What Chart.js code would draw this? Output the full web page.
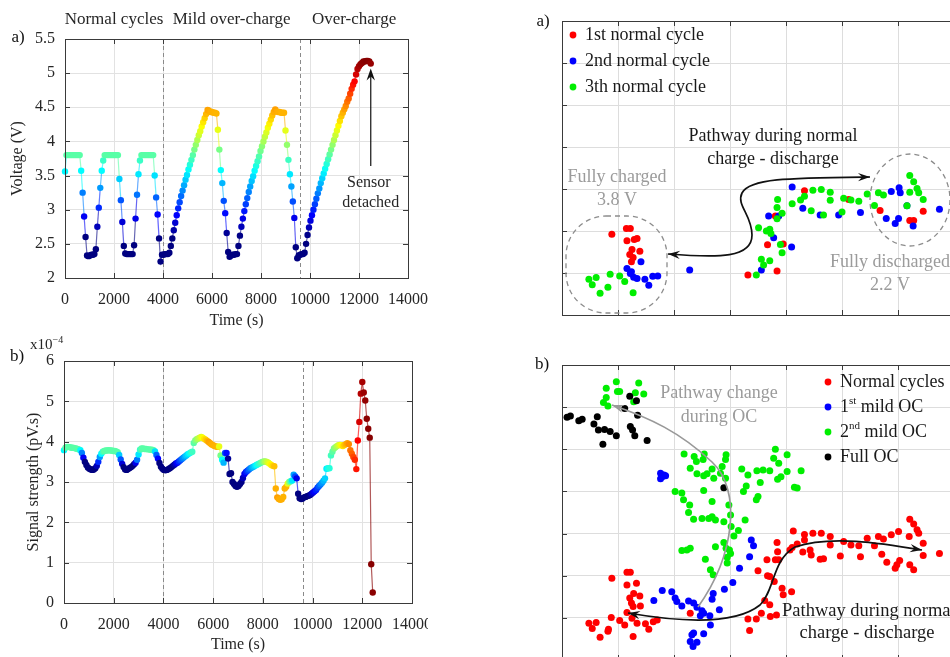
<!DOCTYPE html>
<html>
<head>
<meta charset="utf-8">
<title>Voltage and signal strength</title>
<script src="https://cdn.jsdelivr.net/npm/chart.js@4.4.1/dist/chart.umd.min.js"></script>
<style>
  html, body { margin: 0; padding: 0; background: #fff; width: 950px; height: 657px; overflow: hidden; }
  body { position: relative; }
  canvas { position: absolute; left: 0; top: 0; }
  .pane { position: absolute; overflow: hidden; }
</style>
</head>
<body>
<div class="pane" style="left:0;top:0;width:440px;height:330px"><canvas id="voltChart" width="440" height="330"></canvas></div>
<div class="pane" style="left:0;top:330px;width:428px;height:327px"><canvas id="signalChart" width="446" height="327"></canvas></div>
<div class="pane" style="left:530px;top:0;width:420px;height:320px"><canvas id="normalChart" width="490" height="320"></canvas></div>
<div class="pane" style="left:530px;top:330px;width:420px;height:327px"><canvas id="ocChart" width="490" height="335"></canvas></div>
<script>
// ---- left panels: time series (shared time base) ----
var timeS = [
  0,60,120,180,240,300,360,420,480,540,
  600,660,720,780,840,900,960,1020,1080,1140,
  1200,1260,1320,1380,1440,1500,1560,1620,1680,1740,
  1800,1860,1920,1980,2040,2100,2160,2220,2280,2340,
  2400,2460,2520,2580,2640,2700,2760,2820,2880,2940,
  3000,3060,3120,3180,3240,3300,3360,3420,3480,3540,
  3600,3660,3720,3780,3840,3900,3960,4020,4080,4140,
  4200,4260,4320,4380,4440,4500,4560,4620,4680,4740,
  4800,4860,4920,4980,5040,5100,5160,5220,5280,5340,
  5400,5460,5520,5580,5640,5700,5760,5820,5880,5940,
  6000,6060,6120,6180,6240,6300,6360,6420,6480,6540,
  6600,6660,6720,6780,6840,6900,6960,7020,7080,7140,
  7200,7260,7320,7380,7440,7500,7560,7620,7680,7740,
  7800,7860,7920,7980,8040,8100,8160,8220,8280,8340,
  8400,8460,8520,8580,8640,8700,8760,8820,8880,8940,
  9000,9060,9120,9180,9240,9300,9360,9420,9480,9540,
  9600,9660,9720,9780,9840,9900,9960,10020,10080,10140,
  10200,10260,10320,10380,10440,10500,10560,10620,10680,10740,
  10800,10860,10920,10980,11040,11100,11160,11220,11280,11340,
  11400,11460,11520,11580,11640,11700,11760,11820,11880,11940,
  12000,12060,12120,12180,12240,12300,12360,12420,12480
];
var voltage = [
  3.56,3.80,3.80,3.80,3.80,3.80,3.80,3.80,3.80,3.80,
  3.80,3.57,3.25,2.90,2.60,2.33,2.32,2.33,2.34,2.34,
  2.35,2.42,2.75,3.03,3.32,3.57,3.72,3.80,3.80,3.80,
  3.80,3.80,3.80,3.80,3.80,3.80,3.80,3.45,3.14,2.82,
  2.47,2.36,2.35,2.35,2.35,2.35,2.35,2.48,2.87,3.22,
  3.52,3.72,3.80,3.80,3.80,3.80,3.80,3.80,3.80,3.80,
  3.80,3.50,3.18,2.93,2.58,2.24,2.34,2.34,2.35,2.35,
  2.35,2.37,2.47,2.58,2.70,2.81,2.92,3.02,3.11,3.20,
  3.28,3.36,3.44,3.51,3.59,3.66,3.73,3.80,3.88,3.95,
  4.02,4.09,4.15,4.22,4.28,4.34,4.40,4.46,4.45,4.43,
  4.43,4.42,4.42,4.41,4.17,3.88,3.58,3.39,3.13,2.95,
  2.66,2.38,2.31,2.33,2.34,2.34,2.35,2.35,2.47,2.62,
  2.75,2.87,2.98,3.08,3.17,3.26,3.34,3.42,3.49,3.57,
  3.64,3.71,3.78,3.86,3.93,4.00,4.07,4.13,4.20,4.26,
  4.32,4.38,4.43,4.47,4.44,4.43,4.43,4.42,4.42,4.42,
  4.16,3.95,3.73,3.52,3.34,3.12,2.88,2.45,2.29,2.33,
  2.34,2.35,2.35,2.37,2.50,2.63,2.74,2.84,2.92,3.00,
  3.08,3.16,3.24,3.31,3.39,3.46,3.53,3.60,3.67,3.74,
  3.81,3.88,3.95,4.02,4.09,4.16,4.23,4.30,4.37,4.42,
  4.47,4.52,4.58,4.63,4.70,4.77,4.83,4.88,4.98,5.06,
  5.10,5.13,5.15,5.17,5.17,5.18,5.18,5.17,5.14
];
// signal strength in units of 1e-4 pV.s
var signal = [
  3.79,3.85,3.87,3.87,3.86,3.85,3.85,3.84,3.83,3.82,
  3.81,3.79,3.72,3.60,3.50,3.42,3.36,3.33,3.31,3.30,
  3.31,3.34,3.40,3.50,3.62,3.70,3.75,3.77,3.78,3.78,
  3.79,3.78,3.78,3.77,3.77,3.76,3.74,3.67,3.56,3.45,
  3.37,3.31,3.30,3.32,3.35,3.37,3.40,3.44,3.48,3.55,
  3.68,3.80,3.83,3.83,3.82,3.82,3.81,3.81,3.80,3.80,
  3.79,3.76,3.67,3.58,3.47,3.38,3.33,3.30,3.29,3.30,
  3.32,3.34,3.37,3.40,3.43,3.46,3.48,3.51,3.54,3.57,
  3.60,3.63,3.66,3.69,3.71,3.73,3.75,3.97,4.03,4.06,
  4.08,4.10,4.12,4.10,4.07,4.05,4.02,3.99,3.96,3.93,
  3.91,3.89,3.88,3.87,3.88,3.66,3.55,3.48,3.72,3.72,
  3.58,3.20,3.22,3.00,2.95,2.90,2.88,2.90,2.95,3.00,
  3.10,3.20,3.25,3.28,3.31,3.34,3.36,3.38,3.40,3.42,
  3.44,3.46,3.48,3.50,3.51,3.51,3.50,3.48,3.45,3.42,
  3.40,3.39,2.84,2.62,2.58,2.56,2.57,2.63,2.84,2.88,
  2.96,3.00,3.02,3.04,3.18,3.14,3.09,2.71,2.60,2.58,
  2.59,2.62,2.63,2.65,2.66,2.68,2.71,2.74,2.77,2.80,
  2.86,2.90,2.94,2.98,3.03,3.09,3.33,3.34,3.34,3.66,
  3.75,3.83,3.86,3.89,3.91,3.92,3.91,3.89,3.92,3.94,
  3.96,3.94,3.79,3.70,3.62,3.55,3.32,4.03,4.49,5.19,
  5.48,5.22,5.02,4.57,4.32,4.10,0.96,0.26,null
];
var phaseBounds = [ 4000, 9600 ];
var phaseNames = [ "Normal cycles", "Mild over-charge", "Over-charge" ];
var timeTicks = [ 0, 2000, 4000, 6000, 8000, 10000, 12000, 14000 ];
var voltTicks = [ 2, 2.5, 3, 3.5, 4, 4.5, 5, 5.5 ];
var signalTicks = [ 0, 1, 2, 3, 4, 5, 6 ];

// ---- right panels: scatter maps (grid units) ----
var normalNames = [ "1st normal cycle", "2nd normal cycle", "3th normal cycle" ];
var cycle1 = [[0.89,1.92],[1.15,2.06],[1.22,2.06],[1.16,1.77],[1.29,1.80],[1.34,1.82],[1.25,1.56],[1.39,1.52],[1.21,1.44],[1.27,1.37],[1.24,1.27],
  [4.33,2.96],[3.81,2.36],[3.95,1.69],[3.67,1.67],[3.32,0.95],[3.84,1.05],[5.12,2.75],[5.68,2.49],[6.45,2.47],[6.21,2.25],[6.28,2.25]];
var cycle2 = [[4.11,3.05],[6.74,2.52],[6.02,3.03],[6.04,2.91],[5.88,2.94],[5.79,2.30],[5.95,2.18],[6.01,2.30],[6.27,2.12],[6.16,2.60],[5.33,2.44],
  [4.94,2.38],[4.61,2.38],[4.30,2.54],[3.69,2.36],[3.87,2.36],[3.78,1.84],[4.10,1.62],[3.56,1.07],[2.28,1.07],[1.16,1.11],[1.22,0.99],
  [1.28,0.90],[1.34,0.87],[1.48,0.85],[1.55,0.71],[1.62,0.92],[1.71,0.93],[1.41,1.27],[1.24,1.03]];
var cycle3 = [[3.85,2.75],[4.11,2.65],[4.26,2.74],[4.33,2.83],[4.48,2.97],[4.63,2.99],[4.79,2.92],[4.79,2.73],[5.03,2.78],[5.16,2.74],[5.30,2.71],
  [5.45,2.88],[5.65,2.91],[5.74,2.86],[5.58,2.61],[6.21,3.32],[6.28,3.17],[6.34,3.01],[6.37,2.91],[6.21,2.92],[6.45,2.75],[6.16,2.60],
  [4.45,2.48],[4.67,2.38],[5.00,2.45],[3.84,2.56],[3.93,2.42],[3.84,2.29],[3.51,2.08],[3.65,2.00],[3.71,2.04],[3.73,1.94],[3.90,1.68],
  [3.93,1.48],[3.56,1.33],[3.71,1.29],[3.60,1.19],[3.47,0.95],[0.86,0.97],[1.03,0.93],[1.12,0.80],[0.48,0.85],[0.54,0.72],[0.61,0.89],
  [0.68,0.52],[0.82,0.66],[1.27,0.53]];

var ocNames = [ "Normal cycles", "1st mild OC", "2nd mild OC", "Full OC" ];
var ocNormal = [[0.89,1.94],[1.16,2.08],[1.22,2.08],[1.16,1.78],[1.33,1.82],[1.28,1.58],[1.21,1.47],[1.39,1.52],[1.24,1.35],[1.27,1.27],
  [1.40,1.28],[1.16,1.13],[0.88,1.01],[1.03,0.94],[1.12,0.83],[0.48,0.87],[0.54,0.75],[0.61,0.89],[0.68,0.54],[0.82,0.68],[0.83,0.73],
  [1.27,0.56],[1.34,0.87],[1.49,0.86],[1.55,0.73],[1.70,0.95],[1.63,0.91],[1.25,0.99],[2.29,1.11],
  [3.32,0.97],[3.47,0.97],[3.35,0.70],[3.56,1.11],[3.71,1.31],[3.72,1.03],[3.83,1.07],[3.62,1.41],[3.67,2.00],[3.71,1.98],[3.79,1.86],
  [3.50,2.12],[3.93,1.70],[3.95,1.55],[4.10,1.62],[3.66,2.38],[3.81,2.38],[3.87,2.38],[3.85,2.57],[3.84,2.79],[4.11,2.67],[4.20,2.75],
  [4.13,3.06],[4.33,2.98],[4.33,2.85],[4.48,3.01],[4.63,3.01],[4.79,2.93],[4.79,2.73],[5.03,2.81],[5.16,2.73],[5.30,2.71],[5.45,2.89],
  [5.65,2.93],[5.74,2.87],[5.88,2.97],[6.01,3.05],[6.20,2.93],[6.21,3.34],[6.28,3.23],[6.34,3.09],[6.37,3.01],[6.45,2.77],[6.45,2.48],
  [6.74,2.53],[5.58,2.71],[5.71,2.51],[5.80,2.32],[5.95,2.18],[5.98,2.26],[6.03,2.36],[6.21,2.26],[6.28,2.14],[4.45,2.49],[4.67,2.40],
  [4.61,2.39],[4.97,2.47],[5.33,2.45],[4.30,2.56],[4.43,2.61],[4.07,2.61]];
var ocMild1 = [[1.76,4.43],[1.79,4.35],[1.82,4.39],[1.76,4.30],[1.85,4.37],[3.38,2.85],[3.42,2.71],[3.35,2.45],[3.17,2.18],[3.05,1.84],
  [2.90,1.68],[2.70,1.58],[2.68,1.44],[2.81,1.19],[2.64,1.05],[2.65,0.83],[1.79,1.65],[1.96,1.62],[2.02,1.47],[2.05,1.39],[2.14,1.28],
  [2.26,1.40],[2.35,1.35],[2.41,1.25],[2.50,1.17],[2.53,1.11],[1.64,1.41],[2.35,0.64],[2.32,0.60],[2.53,0.62],[2.29,0.44],[2.34,0.32],
  [2.41,0.42],[2.47,1.05]];
var ocMild2 = [[0.79,6.45],[0.97,6.60],[0.99,6.37],[1.03,6.37],[1.37,6.57],[1.46,6.31],[1.31,6.34],[0.79,6.23],[0.74,6.11],[0.82,6.03],[1.28,6.13],
  [2.18,4.89],[2.36,4.83],[2.40,4.71],[2.54,4.89],[2.52,4.76],[2.68,4.53],[2.59,4.42],[2.53,4.37],[2.41,4.42],[2.29,4.55],[2.93,4.87],
  [2.92,4.76],[2.86,4.59],[2.83,4.43],[2.71,4.31],[2.92,4.31],[2.02,4.00],[2.14,3.96],[2.17,3.80],[2.28,3.68],[2.26,3.50],[2.35,3.34],
  [2.50,3.36],[2.62,3.36],[2.68,3.40],[2.74,3.32],[2.89,3.28],[3.01,3.44],[2.98,3.68],[2.68,3.76],[2.53,4.02],[3.02,3.17],[3.07,2.94],
  [3.15,3.07],[3.27,3.32],[2.14,2.60],[2.23,2.61],[2.29,2.65],[2.56,2.39],[2.74,2.69],[2.89,2.79],[2.93,2.65],[2.95,2.44],[2.95,2.30],
  [2.65,2.14],[2.70,2.02],[2.99,2.61],[3.01,2.53],[3.24,4.00],[3.29,4.13],[3.32,4.39],[3.21,4.53],[3.48,4.49],[3.59,4.51],[3.71,4.49],
  [3.81,5.00],[3.87,4.67],[4.02,4.87],[4.02,4.47],[3.91,4.35],[3.85,4.29],[3.54,4.21],[3.47,3.80],[3.50,3.88],[4.15,4.10],[4.20,4.08],
  [4.27,4.49],[3.78,4.79]];
var ocFull = [[0.09,5.76],[0.15,5.79],[0.30,5.68],[0.36,5.71],[0.57,5.60],[0.63,5.77],[0.65,5.46],[0.76,5.47],[0.86,5.42],[0.97,5.32],
  [0.73,5.12],[1.22,5.54],[1.26,5.46],[1.30,5.32],[1.52,5.21],[1.12,5.97],[1.21,6.26],[1.33,6.15],[1.35,5.81],[2.89,4.09]];

// ---- styling helpers ----
var SERIF='"Liberation Serif", "Times New Roman", serif';
Chart.defaults.font.family=SERIF;
Chart.defaults.color='#262626';
Chart.defaults.animation=false;

// jet colour map on voltage
var cLo=2.6, cHi=5.2;
function jet( v )
{
        var t=Math.min( 1, Math.max( 0, ( v-cLo )/( cHi-cLo ) ) );
        var f=function( x ) { return Math.round( 255*Math.min( 1, Math.max( 0, x ) ) ); };
        return [ f( 1.5-Math.abs( 4*t-3 ) ), f( 1.5-Math.abs( 4*t-2 ) ), f( 1.5-Math.abs( 4*t-1 ) ) ];
}
function rgba( c, a ) { return 'rgba('+c[0]+','+c[1]+','+c[2]+','+a+')'; }
var voltColors=voltage.map( jet );

function label( ctx, txt, x, y, size, color, align )
{
        ctx.font=size+'px '+SERIF;
        ctx.fillStyle=color;
        ctx.textAlign=align||'center';
        ctx.textBaseline='middle';
        ctx.fillText( txt, x, y );
}

// MATLAB-like box with inward ticks
function frame( chart, tickLen )
{
        var ctx=chart.ctx, a=chart.chartArea, sx=chart.scales.x, sy=chart.scales.y;
        ctx.save();
        ctx.strokeStyle='#3a3a3a';
        ctx.lineWidth=1;
        ctx.beginPath();
        sx.ticks.forEach( function( t )
        {
                var px=Math.round( sx.getPixelForValue( t.value ) )+0.5;
                ctx.moveTo( px, a.bottom ); ctx.lineTo( px, a.bottom-tickLen );
                ctx.moveTo( px, a.top ); ctx.lineTo( px, a.top+tickLen );
        } );
        sy.ticks.forEach( function( t )
        {
                var py=Math.round( sy.getPixelForValue( t.value ) )+0.5;
                ctx.moveTo( a.left, py ); ctx.lineTo( a.left+tickLen, py );
                ctx.moveTo( a.right, py ); ctx.lineTo( a.right-tickLen, py );
        } );
        ctx.stroke();
        ctx.strokeRect( Math.round( a.left )+0.5, Math.round( a.top )+0.5, Math.round( a.right-a.left ), Math.round( a.bottom-a.top ) );
        ctx.restore();
}

function phaseLines( chart )
{
        var ctx=chart.ctx, a=chart.chartArea, sx=chart.scales.x;
        ctx.save();
        ctx.strokeStyle='#8a8a8a';
        ctx.lineWidth=1;
        ctx.setLineDash( [ 4, 3 ] );
        phaseBounds.forEach( function( b )
        {
                var px=Math.round( sx.getPixelForValue( b ) )+0.5;
                ctx.beginPath(); ctx.moveTo( px, a.top ); ctx.lineTo( px, a.bottom ); ctx.stroke();
        } );
        ctx.restore();
}

function arrowHead( ctx, fx, fy, tx, ty )
{
        var ang=Math.atan2( ty-fy, tx-fx ), L=12, W=4.2, c=Math.cos( ang ), s=Math.sin( ang );
        ctx.beginPath();
        ctx.moveTo( tx, ty );
        ctx.lineTo( tx-L*c+W*s, ty-L*s-W*c );
        ctx.lineTo( tx-0.65*L*c, ty-0.65*L*s );
        ctx.lineTo( tx-L*c-W*s, ty-L*s+W*c );
        ctx.closePath();
        ctx.fill();
}

// pts: start point followed by bezier triples
function curveArrow( ctx, pts, color, both )
{
        var n=pts.length;
        ctx.save();
        ctx.strokeStyle=color; ctx.fillStyle=color; ctx.lineWidth=1.7;
        ctx.beginPath();
        ctx.moveTo( pts[ 0 ], pts[ 1 ] );
        for ( var i=2; i<n; i+=6 ) ctx.bezierCurveTo( pts[ i ], pts[ i+1 ], pts[ i+2 ], pts[ i+3 ], pts[ i+4 ], pts[ i+5 ] );
        ctx.stroke();
        arrowHead( ctx, pts[ n-4 ], pts[ n-3 ], pts[ n-2 ], pts[ n-1 ] );
        if ( both ) arrowHead( ctx, pts[ 2 ], pts[ 3 ], pts[ 0 ], pts[ 1 ] );
        ctx.restore();
}

function legendRows( chart, x, y0, dy, supers )
{
        var ctx=chart.ctx;
        chart.data.datasets.forEach( function( ds, i )
        {
                var y=y0+i*dy;
                ctx.fillStyle=ds.pointBackgroundColor;
                ctx.beginPath(); ctx.arc( x, y, 3.4, 0, 2*Math.PI ); ctx.fill();
                var tx=x+12;
                var m=supers&&ds.label.match( /^(\d+)(st|nd|rd|th)(.*)$/ );
                if ( m )
                {
                        label( ctx, m[ 1 ], tx, y, 18, '#1a1a1a', 'left' );
                        tx+=ctx.measureText( m[ 1 ] ).width;
                        label( ctx, m[ 2 ], tx, y-6, 11, '#1a1a1a', 'left' );
                        tx+=ctx.measureText( m[ 2 ] ).width;
                        label( ctx, m[ 3 ], tx, y, 18, '#1a1a1a', 'left' );
                }
                else label( ctx, ds.label, tx, y, 18, '#1a1a1a', 'left' );
        } );
}

function timeAxes( tickList, yTitle, yWidth, yTitlePad, xHeight, xTitlePad )
{
        return {
                x: {
                        type: 'linear', min: timeTicks[ 0 ], max: timeTicks[ timeTicks.length-1 ],
                        ticks: { stepSize: timeTicks[ 1 ]-timeTicks[ 0 ], autoSkip: false, maxRotation: 0, padding: 12, font: { size: 16 }, callback: function( v ) { return String( v ); } },
                        grid: { color: '#e2e2e2', drawTicks: false },
                        border: { display: false },
                        title: { display: true, text: 'Time (s)', font: { size: 16 }, padding: { top: 0, bottom: xTitlePad } },
                        afterFit: function( s ) { s.height=xHeight; }
                },
                y: {
                        type: 'linear', min: tickList[ 0 ], max: tickList[ tickList.length-1 ],
                        ticks: { stepSize: tickList[ 1 ]-tickList[ 0 ], autoSkip: false, padding: 10, font: { size: 16 }, callback: function( v ) { return String( v ); } },
                        grid: { color: '#e2e2e2', drawTicks: false },
                        border: { display: false },
                        title: { display: true, text: yTitle, font: { size: 16 }, padding: { top: yTitlePad, bottom: 0 } },
                        afterFit: function( s ) { s.width=yWidth; }
                }
        };
}

function mapAxes( yMax )
{
        return {
                x: { type: 'linear', min: 0, max: 8, ticks: { display: false, stepSize: 1 }, grid: { color: '#dddddd', drawTicks: false }, border: { display: false }, afterFit: function( s ) { s.height=0; } },
                y: { type: 'linear', min: 0, max: yMax, ticks: { display: false, stepSize: 1 }, grid: { color: '#dddddd', drawTicks: false }, border: { display: false }, afterFit: function( s ) { s.width=0; } }
        };
}

function scatterSet( name, pts, color, order )
{
        return {
                label: name,
                data: pts.map( function( p ) { return { x: p[ 0 ], y: p[ 1 ] }; } ),
                pointRadius: 3.5, pointBorderWidth: 0,
                pointBackgroundColor: color, backgroundColor: color,
                order: order
        };
}

var quiet={ legend: { display: false }, tooltip: { enabled: false } };

// ---- a) voltage vs time ----
var voltDecor={
        id: 'voltDecor',
        beforeDatasetsDraw: function( chart ) { phaseLines( chart ); },
        afterDraw: function( chart )
        {
                var ctx=chart.ctx, sx=chart.scales.x, sy=chart.scales.y;
                frame( chart, 5 );
                label( ctx, 'a)', 18, 38, 17, '#111' );
                var edges=[ timeTicks[ 0 ] ].concat( phaseBounds, [ timeTicks[ timeTicks.length-1 ] ] );
                phaseNames.forEach( function( nm, i )
                {
                        label( ctx, nm, sx.getPixelForValue( ( edges[ i ]+edges[ i+1 ] )/2 ), 20, 17, '#262626' );
                } );
                var last=timeS.length-1;
                var ax=sx.getPixelForValue( timeS[ last ] ), ay=sy.getPixelForValue( voltage[ last ] )+5;
                ctx.save();
                ctx.strokeStyle='#111'; ctx.fillStyle='#111'; ctx.lineWidth=1.2;
                ctx.beginPath(); ctx.moveTo( ax, 166 ); ctx.lineTo( ax, ay+6 ); ctx.stroke();
                arrowHead( ctx, ax, ay+20, ax, ay );
                ctx.restore();
                label( ctx, 'Sensor', ax-2, 183, 16, '#262626' );
                label( ctx, 'detached', ax, 203, 16, '#262626' );
        }
};

new Chart( document.getElementById( 'voltChart' ), {
        type: 'line',
        data: {
                datasets: [ {
                        data: timeS.map( function( t, i ) { return { x: t, y: voltage[ i ] }; } ),
                        pointRadius: 3.2, pointBorderWidth: 0,
                        pointBackgroundColor: voltColors.map( function( c ) { return rgba( c, 1 ); } ),
                        borderWidth: 1.2,
                        segment: { borderColor: function( s ) { return rgba( voltColors[ s.p0DataIndex ], 0.6 ); } },
                        clip: false
                } ]
        },
        options: {
                responsive: false,
                layout: { padding: { left: 0, top: 39, right: 31, bottom: 0 } },
                plugins: quiet,
                scales: timeAxes( voltTicks, 'Voltage (V)', 65, 8, 52, 0 )
        },
        plugins: [ voltDecor ]
} );

// ---- b) signal strength vs time ----
var signalDecor={
        id: 'signalDecor',
        beforeDatasetsDraw: function( chart ) { phaseLines( chart ); },
        afterDraw: function( chart )
        {
                var ctx=chart.ctx;
                frame( chart, 5 );
                label( ctx, 'b)', 17, 27, 17, '#111' );
                label( ctx, 'x10', 30, 15, 15, '#262626', 'left' );
                label( ctx, '\u22124', 30+ctx.measureText( 'x10' ).width, 10, 10, '#262626', 'left' );
        }
};

new Chart( document.getElementById( 'signalChart' ), {
        type: 'line',
        data: {
                datasets: [ {
                        data: timeS.map( function( t, i ) { return { x: t, y: signal[ i ] }; } ),
                        pointRadius: 3.2, pointBorderWidth: 0,
                        pointBackgroundColor: voltColors.map( function( c ) { return rgba( c, 1 ); } ),
                        borderWidth: 1.2,
                        segment: { borderColor: function( s ) { return rgba( voltColors[ s.p0DataIndex ], 0.65 ); } },
                        clip: false
                } ]
        },
        options: {
                responsive: false,
                layout: { padding: { left: 0, top: 31, right: 34, bottom: 0 } },
                plugins: quiet,
                scales: timeAxes( signalTicks, 'Signal strength (pV.s)', 64, 24, 54, 3 )
        },
        plugins: [ signalDecor ]
} );

// ---- a) normal cycles map ----
var GREY='#9b9b9b';
var normalDecor={
        id: 'normalDecor',
        afterDraw: function( chart )
        {
                var ctx=chart.ctx;
                frame( chart, 5 );
                label( ctx, 'a)', 13, 22, 17, '#111' );
                legendRows( chart, 43, 35, 26, false );
                ctx.save();
                ctx.strokeStyle='#8c8c8c'; ctx.lineWidth=1.3; ctx.setLineDash( [ 5, 4 ] );
                ctx.beginPath(); ctx.roundRect( 36, 216, 101, 97, 40 ); ctx.stroke();
                ctx.beginPath(); ctx.ellipse( 380, 200, 40, 46, 0, 0, 2*Math.PI ); ctx.stroke();
                ctx.restore();
                label( ctx, 'Fully charged', 87, 177, 18, GREY );
                label( ctx, '3.8 V', 87, 200, 18, GREY );
                label( ctx, 'Fully discharged', 360, 262, 18, GREY );
                label( ctx, '2.2 V', 360, 285, 18, GREY );
                label( ctx, 'Pathway during normal', 243, 136, 18, '#1a1a1a' );
                label( ctx, 'charge - discharge', 243, 159, 18, '#1a1a1a' );
                curveArrow( ctx, [ 138, 254, 190, 258, 222, 258, 222, 235, 222, 215, 206, 205, 212, 193, 220, 178, 260, 178, 340, 177 ], '#111', true );
        }
};

new Chart( document.getElementById( 'normalChart' ), {
        type: 'scatter',
        data: {
                datasets: [
                        scatterSet( normalNames[ 0 ], cycle1, '#ff0000', 3 ),
                        scatterSet( normalNames[ 1 ], cycle2, '#0000ff', 2 ),
                        scatterSet( normalNames[ 2 ], cycle3, '#00ee00', 1 )
                ]
        },
        options: {
                responsive: false,
                layout: { padding: { left: 32, top: 21, right: 10, bottom: 5 } },
                plugins: quiet,
                scales: mapAxes( 7 )
        },
        plugins: [ normalDecor ]
} );

// ---- b) over-charge map ----
var ocDecor={
        id: 'ocDecor',
        afterDraw: function( chart )
        {
                var ctx=chart.ctx;
                frame( chart, 5 );
                label( ctx, 'b)', 12, 35, 17, '#111' );
                legendRows( chart, 298, 52, 25, true );
                label( ctx, 'Pathway change', 189, 63, 18, GREY );
                label( ctx, 'during OC', 189, 87, 18, GREY );
                label( ctx, 'Pathway during normal', 252, 281, 18.5, '#1a1a1a', 'left' );
                label( ctx, 'charge - discharge', 337, 303, 18.5, '#1a1a1a' );
                curveArrow( ctx, [ 168, 277, 205, 225, 212, 160, 182, 132, 150, 102, 120, 88, 82, 75 ], '#999999', false );
                curveArrow( ctx, [ 98, 283, 150, 292, 205, 295, 230, 275, 245, 260, 242, 230, 265, 217, 300, 205, 350, 213, 392, 220 ], '#111', true );
        }
};

new Chart( document.getElementById( 'ocChart' ), {
        type: 'scatter',
        data: {
                datasets: [
                        scatterSet( ocNames[ 0 ], ocNormal, '#ff0000', 4 ),
                        scatterSet( ocNames[ 1 ], ocMild1, '#0000ff', 3 ),
                        scatterSet( ocNames[ 2 ], ocMild2, '#00ee00', 2 ),
                        scatterSet( ocNames[ 3 ], ocFull, '#000000', 1 )
                ]
        },
        options: {
                responsive: false,
                layout: { padding: { left: 32, top: 35, right: 10, bottom: 5 } },
                plugins: quiet,
                scales: mapAxes( 7 )
        },
        plugins: [ ocDecor ]
} );
</script>
</body>
</html>
